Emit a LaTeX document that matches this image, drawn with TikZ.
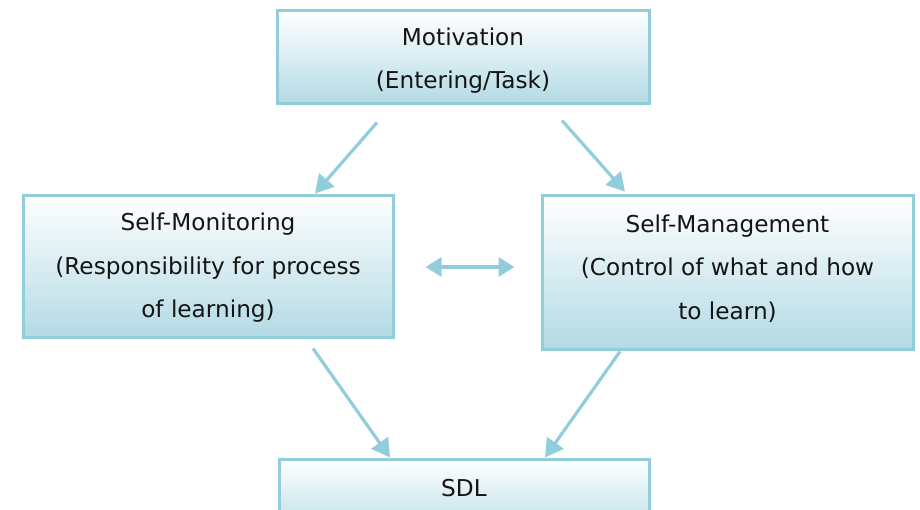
\documentclass[tikz,border=0pt]{standalone}
\usepackage{fontspec}
\setmainfont{DejaVu Sans}
\usetikzlibrary{arrows.meta,calc}
\definecolor{bord}{HTML}{92CDDC}
\definecolor{fillb}{HTML}{B3DAE5}
\definecolor{txt}{HTML}{141414}
\begin{document}
\begin{tikzpicture}[x=1pt,y=-1pt,
  box/.style={draw=bord, line width=3pt, top color=white, bottom color=fillb, inner sep=0pt},
  lbl/.style={align=center, text=txt, font=\fontsize{23.2}{43.5}\selectfont, inner sep=0pt},
  arr/.style={draw=bord, line width=3.2pt, -{Triangle[length=18pt,width=20pt]}},
  darr/.style={draw=bord, line width=3.2pt, {Triangle[length=16pt,width=19pt]}-{Triangle[length=16pt,width=19pt]}}]
\useasboundingbox (0,0) rectangle (920,510);
\clip (0,0) rectangle (920,510);
% boxes
\node[box, minimum width=372pt, minimum height=93pt] (mot) at (463,57.5) {};
\node[lbl] (mottxt) at (463,60.5) {Motivation\\(Entering/Task)};
\node[box, minimum width=370pt, minimum height=141pt] (mon) at (208,266.5) {};
\node[lbl] (montxt) at (208,268) {Self-Monitoring\\(Responsibility for process\\of learning)};
\node[box, minimum width=371pt, minimum height=153pt] (man) at (727.5,272.5) {};
\node[lbl] (mantxt) at (727.5,268.5) {Self-Management\\(Control of what and how\\to learn)};
\node[box, minimum width=370pt, minimum height=80pt] (sdl) at (464,499) {};
\node[lbl] (sdltxt) at (464,488) {SDL};
% arrows
\draw[arr] ($(mot.south)+(-86,17)$) -- ($(mon.north)+(107,-1)$);
\draw[arr] ($(mot.south)+(99,15)$) -- ($(man.north)+(-102.5,-3)$);
\draw[arr] ($(mon.south)+(105,10)$) -- ($(sdl.north)+(-74,0)$);
\draw[arr] ($(man.south)+(-107.5,1)$) -- ($(sdl.north)+(81,0)$);
\draw[darr] ($(mon.east)+(31,0.5)$) -- ($(man.west)+(-26,-5.5)$);
\end{tikzpicture}
\end{document}
